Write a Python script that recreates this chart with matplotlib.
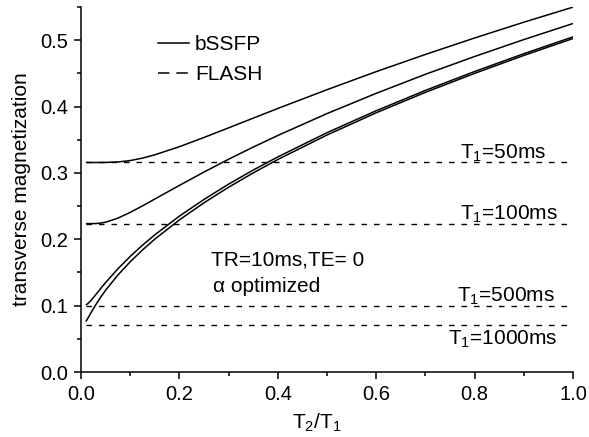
import matplotlib
matplotlib.use("Agg")
import matplotlib.pyplot as plt
from matplotlib.lines import Line2D
from matplotlib.ticker import MultipleLocator

plt.rcParams['font.family'] = ['Liberation Sans', 'DejaVu Sans']
plt.rcParams['mathtext.fontset'] = 'custom'
plt.rcParams['mathtext.rm'] = 'Liberation Sans'
plt.rcParams['mathtext.it'] = 'Liberation Sans:italic'

# T2/T1 sample points
x = [0.01, 0.015, 0.02, 0.03, 0.04, 0.05, 0.075, 0.1, 0.125, 0.15, 0.2, 0.25,
     0.3, 0.35, 0.4, 0.5, 0.6, 0.7, 0.8, 0.9, 1.0]

# bSSFP transverse magnetization for each T1
ssfp_50 = [0.3157, 0.3157, 0.3157, 0.3157, 0.3157, 0.3158, 0.3165, 0.3186, 0.3223, 0.3273,
           0.3395, 0.3534, 0.3679, 0.3825, 0.3971, 0.4254, 0.4526, 0.4785, 0.5033, 0.5271, 0.5498]
ssfp_100 = [0.2236, 0.2236, 0.2236, 0.2237, 0.2244, 0.2257, 0.2318, 0.2405, 0.2503, 0.2606,
            0.2812, 0.3013, 0.3206, 0.3389, 0.3564, 0.3894, 0.4199, 0.4486, 0.4754, 0.5009, 0.5251]
ssfp_500 = [0.1009, 0.1037, 0.1075, 0.1165, 0.1258, 0.1348, 0.1555, 0.1742, 0.1911, 0.2067,
            0.2349, 0.2600, 0.2831, 0.3043, 0.3241, 0.3606, 0.3937, 0.4243, 0.4528, 0.4796, 0.5050]
ssfp_1000 = [0.0760, 0.0824, 0.0889, 0.1014, 0.1127, 0.1232, 0.1461, 0.1661, 0.1839, 0.2002,
             0.2292, 0.2550, 0.2784, 0.3000, 0.3202, 0.3571, 0.3906, 0.4214, 0.4500, 0.4770, 0.5025]

# FLASH (Ernst angle) levels
flash_x = [0.01, 1.0]
flash_levels = [0.3157, 0.2236, 0.1000, 0.0707]
t1_labels = [r'$\mathregular{T_1}$=50ms', r'$\mathregular{T_1}$=100ms',
             r'$\mathregular{T_1}$=500ms', r'$\mathregular{T_1}$=1000ms']

fig = plt.figure(figsize=(5.89, 4.37), dpi=100)
ax = fig.add_axes([81/589, 1-372/437, 492/589, 365/437])

lw = 1.1
for ys in (ssfp_50, ssfp_100, ssfp_500, ssfp_1000):
    ax.plot(x, ys, color='black', lw=lw, solid_capstyle='butt')
for lvl in flash_levels:
    ax.plot(flash_x, [lvl, lvl], color='black', lw=1.0, linestyle=(0, (4, 5)))

# labels for T1
label_pos = [(0.77, 0.322), (0.77, 0.229), (0.765, 0.106), (0.745, 0.041)]
for (tx, ty), lab in zip(label_pos, t1_labels):
    ax.text(tx, ty, lab, fontsize=15, ha='left', va='baseline')

ax.text(0.265, 0.16, 'TR=10ms,TE= 0', fontsize=15, ha='left', va='baseline')
ax.text(0.268, 0.121, 'α optimized', fontsize=15, ha='left', va='baseline')

handles = [Line2D([], [], color='black', lw=1.1),
           Line2D([], [], color='black', lw=1.1, linestyle=(0, (7.5, 4.5)))]
leg = ax.legend(handles, ['bSSFP', 'FLASH'], loc='upper left',
                bbox_to_anchor=(0.119, 0.975), frameon=False, fontsize=15,
                handlelength=1.45, handletextpad=0.3, labelspacing=0.55)

ax.set_xlim(0, 1.0)
ax.set_ylim(0, 0.55)
ax.xaxis.set_major_locator(MultipleLocator(0.2))
ax.xaxis.set_minor_locator(MultipleLocator(0.1))
ax.yaxis.set_major_locator(MultipleLocator(0.1))
ax.yaxis.set_minor_locator(MultipleLocator(0.05))
ax.xaxis.set_major_formatter(plt.FormatStrFormatter('%.1f'))
ax.yaxis.set_major_formatter(plt.FormatStrFormatter('%.1f'))
ax.spines['top'].set_visible(False)
ax.spines['right'].set_visible(False)
for s in ('left', 'bottom'):
    ax.spines[s].set_linewidth(1.1)
ax.tick_params(which='major', direction='out', length=5, width=1.1, labelsize=14.5, pad=4)
ax.tick_params(which='minor', direction='out', length=2.8, width=1.1)

ax.set_xlabel(r'$\mathregular{T_2/T_1}$', fontsize=15, labelpad=4)
ax.xaxis.set_label_coords(0.48, -0.11)
ax.set_ylabel('transverse magnetization', fontsize=15, labelpad=7)

fig.savefig('out.png', dpi=100)
